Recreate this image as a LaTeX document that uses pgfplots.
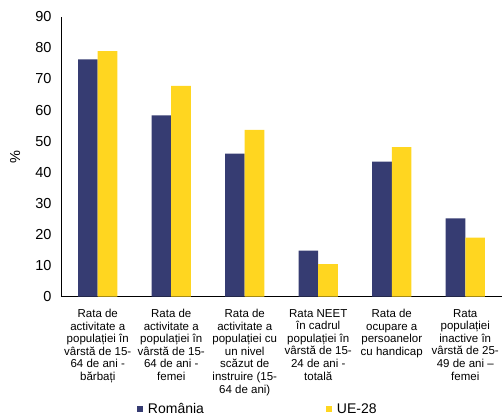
\documentclass[border=0pt]{standalone}
\usepackage{pgfplots}
\pgfplotsset{compat=1.18}
\usepackage{fontspec}
\setmainfont{Liberation Sans}
\definecolor{ronavy}{RGB}{54,60,114}
\definecolor{euyel}{RGB}{255,214,32}
\begin{document}
\begin{tikzpicture}
\useasboundingbox (-61pt,-121.3pt) rectangle (441pt,296.7pt);
\begin{axis}[
  scale only axis,
  width=441pt, height=280pt,
  ybar=0pt, bar width=19.6pt,
  xmin=-0.5, xmax=5.5,
  ymin=0, ymax=90,
  ytick={0,10,...,90},
  xtick=data,
  xticklabels={
    {Rata de\\activitate a\\populației în\\vârstă de 15-\\64 de ani -\\bărbați},
    {Rata de\\activitate a\\populației în\\vârstă de 15-\\64 de ani -\\femei},
    {Rata de\\activitate a\\populației cu\\un nivel\\scăzut de\\instruire (15-\\64 de ani)},
    {Rata NEET\\în cadrul\\populației în\\vârstă de 15-\\24 de ani -\\totală},
    {Rata de\\ocupare a\\persoanelor\\cu handicap},
    {Rata\\populației\\inactive în\\vârstă de 25-\\49 de ani –\\femei}},
  xticklabel style={align=center, font=\fontsize{11.5}{12.6}\selectfont, yshift=-9pt},
  yticklabel style={font=\fontsize{14.5}{16}\selectfont, xshift=-6pt},
  /pgf/number format/assume math mode=true,
  axis x line*=bottom, axis y line*=left,
  axis line style={-, black, line width=0.9pt},
  major tick length=0pt,
  ylabel={\%},
  every axis y label/.style={at={(axis description cs:-0.104,0.5)}, rotate=90, anchor=center, font=\fontsize{14.5}{16}\selectfont},
  legend columns=2,
  legend style={draw=none, fill=none, at={(0.165,-0.401)}, anchor=west,
    font=\fontsize{14}{16}\selectfont,
    /tikz/every even column/.append style={column sep=120pt}},
  legend image code/.code={\fill[#1] (0pt,-3.2pt) rectangle (6.5pt,3.2pt); \path (9pt,0pt);},
]
\addplot[fill=ronavy, draw=none] coordinates {(0,76.3) (1,58.3) (2,46.0) (3,14.8) (4,43.4) (5,25.2)};
\addplot[fill=euyel, draw=none] coordinates {(0,78.9) (1,67.8) (2,53.6) (3,10.5) (4,48.1) (5,19.0)};
\legend{România, UE-28}
\end{axis}
\end{tikzpicture}
\end{document}
